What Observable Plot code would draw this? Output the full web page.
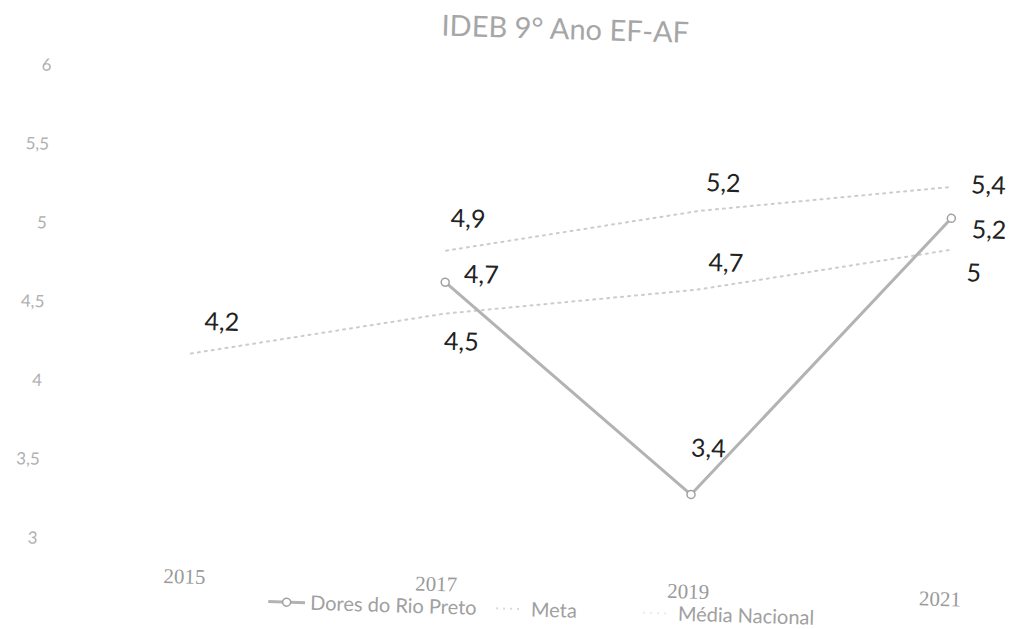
<!DOCTYPE html>
<html><head><meta charset="utf-8">
<script src="https://cdn.jsdelivr.net/npm/d3@7"></script>
<script src="https://cdn.jsdelivr.net/npm/@observablehq/plot@0.6"></script>
<style>
html,body{margin:0;padding:0;background:#fff;overflow:hidden;}
#wrap{position:relative;width:1012px;height:629px;transform:rotate(1.7deg);transform-origin:50px 300px;font-family:Lato,"Open Sans",sans-serif;}
#title{position:absolute;left:257px;width:600px;top:-2px;text-align:center;font-size:29px;line-height:1;color:#a6a6a6;white-space:nowrap;}
#chart{position:absolute;left:0;top:0;}
.leg{position:absolute;top:584px;font-size:20px;line-height:1;color:#a0a0a0;white-space:nowrap;}
.sw{position:absolute;top:588px;}
</style></head>
<body><div id="wrap"><div id="chart"></div><div id="title">IDEB 9° Ano EF-AF</div><div id="legend"></div></div>
<script>
const years = ["2015", "2017", "2019", "2021"];
const seriesNames = ["Dores do Rio Preto", "Meta", "Média Nacional"];
const doresValues = [null, 4.7, 3.4, 5.2];
const metaValues = [null, 4.9, 5.2, 5.4];
const mediaValues = [4.2, 4.5, 4.7, 5.0];
const yTicks = [3, 3.5, 4, 4.5, 5, 5.5, 6];

const fmt = v => String(v).replace(".", ",");
function rows(name, vals) {
  return years.map((y, i) => ({year: y, value: vals[i], series: name, i})).filter(d => d.value != null);
}
const dores = rows(seriesNames[0], doresValues);
const meta = rows(seriesNames[1], metaValues);
const media = rows(seriesNames[2], mediaValues);

// label placement (pixel offsets from the point), style only
const labelOffsets = {
  "Dores do Rio Preto": [[0, 0], [36, -8], [16, -46], [38, 11]],
  "Meta": [[0, 0], [21, -32], [23, -28], [36, -2]],
  "Média Nacional": [[30, -32], [18, 28], [28, -27], [24, 23]]
};

const labelMarks = [...dores, ...meta, ...media].map(d => {
  const [dx, dy] = labelOffsets[d.series][d.i];
  return Plot.text([d], {x: "year", y: "value", text: r => fmt(r.value), dx, dy,
    fontSize: 25, fill: "#222", fontFamily: "Lato, 'Open Sans', sans-serif", textAnchor: "middle"});
});

const chart = Plot.plot({
  width: 1012, height: 629,
  marginTop: 65, marginBottom: 91, marginLeft: 192, marginRight: 64,
  x: {type: "point", domain: years, padding: 0, label: null},
  y: {domain: [3, 6], label: null},
  style: {background: "transparent", overflow: "visible"},
  marks: [
    Plot.axisX({tickSize: 0, tickPadding: 26, fontSize: 21, color: "#9a9a9a", fontFamily: "'Liberation Serif', serif", label: null}),
    Plot.axisY({ticks: yTicks, tickFormat: fmt, tickSize: 0, tickPadding: 148, fontSize: 17, color: "#b0b0b0", fontFamily: "Lato, sans-serif", label: null}),
    Plot.lineY(meta, {x: "year", y: "value", stroke: "#cccccc", strokeWidth: 2, strokeDasharray: "2 5"}),
    Plot.lineY(media, {x: "year", y: "value", stroke: "#cccccc", strokeWidth: 2, strokeDasharray: "2 5"}),
    Plot.lineY(dores, {x: "year", y: "value", stroke: "#b3b3b3", strokeWidth: 3}),
    Plot.dot(dores, {x: "year", y: "value", r: 4, fill: "#fff", stroke: "#a0a0a0", strokeWidth: 1.5}),
    ...labelMarks
  ]
});
document.getElementById("chart").appendChild(chart);

const legend = document.getElementById("legend");
const items = [
  {name: seriesNames[0], sw: 277, tx: 319, stroke: "#b3b3b3", dash: null, dot: true},
  {name: seriesNames[1], sw: 505, tx: 540, stroke: "#dadada", dash: "2 5", dot: false},
  {name: seriesNames[2], sw: 652, tx: 687, stroke: "#ececec", dash: "2 5", dot: false}
];
items.forEach(it => {
  const w = it.dot ? 37 : 28;
  const s = d3.create("svg").attr("class", "sw").attr("width", w).attr("height", 14)
    .style("left", it.sw + "px");
  s.append("line").attr("x1", 0).attr("x2", w).attr("y1", 7).attr("y2", 7)
    .attr("stroke", it.stroke).attr("stroke-width", it.dot ? 3 : 2).attr("stroke-dasharray", it.dash);
  if (it.dot) s.append("circle").attr("cx", w / 2).attr("cy", 7).attr("r", 4).attr("fill", "#fff").attr("stroke", "#a0a0a0").attr("stroke-width", 1.5);
  legend.appendChild(s.node());
  const t = document.createElement("span");
  t.className = "leg"; t.style.left = it.tx + "px"; t.textContent = it.name;
  legend.appendChild(t);
});
</script>
</body></html>
